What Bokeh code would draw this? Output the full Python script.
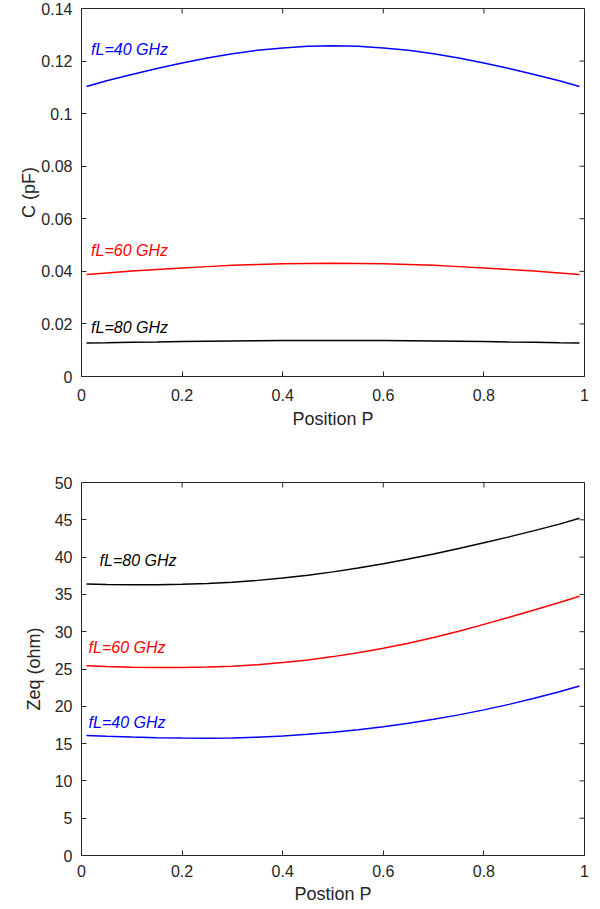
import math
from bokeh.plotting import figure
from bokeh.models import FixedTicker, Range1d
from bokeh.layouts import column
from bokeh.embed import file_html
from bokeh.resources import INLINE
from bokeh.core.properties import value

# ---------------- data ----------------
P = [0.01, 0.05, 0.10, 0.15, 0.20, 0.25, 0.30, 0.35, 0.40, 0.45, 0.50,
     0.55, 0.60, 0.65, 0.70, 0.75, 0.80, 0.85, 0.90, 0.95, 0.99]

C_40 = [0.1103, 0.1125, 0.1149, 0.1172, 0.1193, 0.1212, 0.1228, 0.1241, 0.1250, 0.1256, 0.1258,
        0.1256, 0.1250, 0.1241, 0.1228, 0.1212, 0.1193, 0.1172, 0.1149, 0.1125, 0.1103]
C_60 = [0.0388, 0.0394, 0.0401, 0.0407, 0.0413, 0.0418, 0.0423, 0.0426, 0.0429, 0.0430, 0.0431,
        0.0430, 0.0429, 0.0426, 0.0423, 0.0418, 0.0413, 0.0407, 0.0401, 0.0394, 0.0388]
C_80 = [0.0127, 0.0128, 0.0130, 0.0131, 0.0133, 0.0134, 0.0135, 0.0136, 0.0137, 0.0137, 0.0137,
        0.0137, 0.0137, 0.0136, 0.0135, 0.0134, 0.0133, 0.0131, 0.0130, 0.0128, 0.0127]

Z_80 = [36.40, 36.33, 36.30, 36.31, 36.37, 36.47, 36.64, 36.88, 37.19, 37.57, 38.02,
        38.54, 39.12, 39.75, 40.43, 41.15, 41.91, 42.71, 43.55, 44.42, 45.20]
Z_60 = [25.42, 25.33, 25.25, 25.21, 25.21, 25.26, 25.38, 25.58, 25.86, 26.22, 26.66,
        27.18, 27.78, 28.46, 29.22, 30.06, 30.98, 31.93, 32.91, 33.92, 34.75]
Z_40 = [16.10, 15.98, 15.87, 15.79, 15.74, 15.72, 15.76, 15.86, 16.02, 16.24, 16.52,
        16.86, 17.26, 17.72, 18.25, 18.85, 19.52, 20.26, 21.07, 21.95, 22.71]

series_names = ["fL=40 GHz", "fL=60 GHz", "fL=80 GHz"]
series_colors = ["#0000FF", "#FF0000", "#000000"]

x_ticks = [0, 0.2, 0.4, 0.6, 0.8, 1]
c_ticks = [0, 0.02, 0.04, 0.06, 0.08, 0.1, 0.12, 0.14]
z_ticks = [0, 5, 10, 15, 20, 25, 30, 35, 40, 45, 50]

# label anchor positions (data coordinates)
c_label_x = [0.019, 0.019, 0.019]
c_label_y = [0.1244, 0.0479, 0.0185]
z_label_x = [0.014, 0.014, 0.036]
z_label_y = [17.8, 27.9, 39.5]

FONT = "Liberation Sans"
AX = "#262626"


def style(p, xt, yt, xlabel, ylabel, x_std, x_lab_std, y_lab_std):
    p.outline_line_color = AX
    p.outline_line_width = 1
    p.xgrid.visible = False
    p.ygrid.visible = False
    p.xaxis.axis_label = xlabel
    p.yaxis.axis_label = ylabel
    for ax in p.xaxis + p.yaxis:
        ax.axis_line_color = AX
        ax.major_tick_line_color = AX
        ax.major_tick_in = 5
        ax.major_tick_out = 0
        ax.minor_tick_line_color = None
        ax.major_label_text_font = FONT
        ax.major_label_text_font_size = "16px"
        ax.major_label_text_color = AX
        ax.axis_label_text_font = FONT
        ax.axis_label_text_font_size = "18px"
        ax.axis_label_text_font_style = "normal"
        ax.axis_label_text_color = AX
    p.xaxis.ticker = FixedTicker(ticks=xt)
    p.yaxis.ticker = FixedTicker(ticks=yt)
    p.xaxis.major_label_overrides = {t: "%g" % t for t in xt}
    p.yaxis.major_label_overrides = {t: "%g" % t for t in yt}
    p.xaxis.major_label_standoff = x_std
    p.yaxis.major_label_standoff = 9
    p.xaxis.axis_label_standoff = x_lab_std
    p.yaxis.axis_label_standoff = y_lab_std
    # mirrored box ticks on top and right edges
    top_y = p.y_range.end
    p.ray(x=xt, y=[top_y] * len(xt), length=5, length_units="screen",
          angle=-math.pi / 2, line_color=AX, line_width=1)
    p.ray(x=[p.x_range.end] * len(yt), y=yt, length=5, length_units="screen",
          angle=math.pi, line_color=AX, line_width=1)


W = 592

p1 = figure(width=W, height=462, output_backend="svg", toolbar_location=None,
            x_range=Range1d(0, 1), y_range=Range1d(0, 0.14),
            min_border_left=81, min_border_right=8, min_border_top=8, min_border_bottom=86)
style(p1, x_ticks, c_ticks, "Position P", "C (pF)", 12, 5, -1)
for ys, col in zip([C_40, C_60, C_80], series_colors):
    p1.line(P, ys, line_color=col, line_width=1.5)
p1.text(x=c_label_x, y=c_label_y, text=series_names, text_color=series_colors,
        text_font=value(FONT), text_font_size="16px", text_font_style="italic",
        text_baseline="middle", text_align="left")

p2 = figure(width=W, height=447, output_backend="svg", toolbar_location=None,
            x_range=Range1d(0, 1), y_range=Range1d(0, 50),
            min_border_left=81, min_border_right=8, min_border_top=20, min_border_bottom=54)
style(p2, x_ticks, z_ticks, "Postion P", "Zeq (ohm)", 9, 4, 8)
for ys, col in zip([Z_40, Z_60, Z_80], series_colors):
    p2.line(P, ys, line_color=col, line_width=1.5)
p2.text(x=z_label_x, y=z_label_y, text=series_names, text_color=series_colors,
        text_font=value(FONT), text_font_size="16px", text_font_style="italic",
        text_baseline="middle", text_align="left")

layout = column(p1, p2, spacing=0)
open("out.html", "w").write(file_html(layout, INLINE))
